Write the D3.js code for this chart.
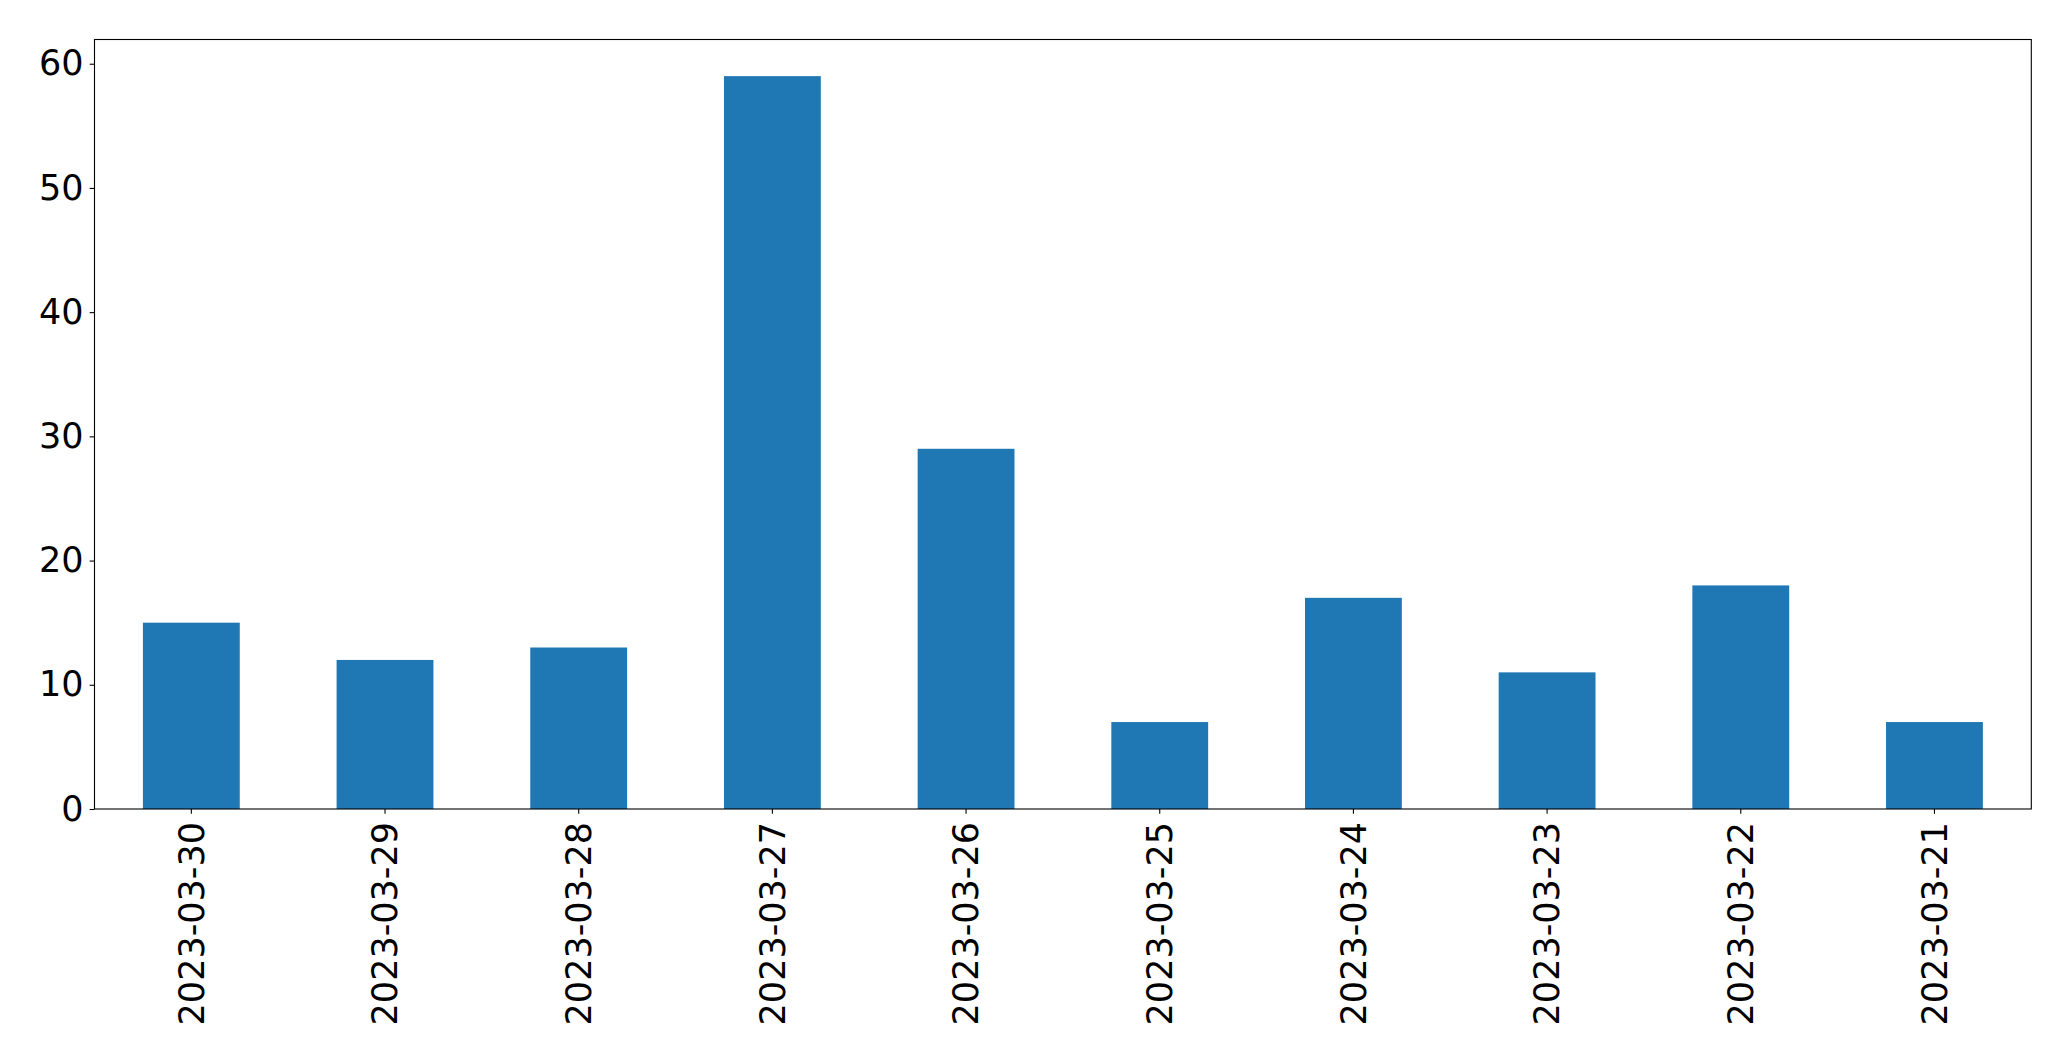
<!DOCTYPE html>
<html><head><meta charset="utf-8">
<script src="https://cdn.jsdelivr.net/npm/d3@7"></script>
<style>html,body{margin:0;padding:0;background:#fff;}svg{display:block;}</style>
</head><body>
<script>
const categories = ["2023-03-30","2023-03-29","2023-03-28","2023-03-27","2023-03-26","2023-03-25","2023-03-24","2023-03-23","2023-03-22","2023-03-21"];
const values = [15, 12, 13, 59, 29, 7, 17, 11, 18, 7];
const yTicks = [0, 10, 20, 30, 40, 50, 60];

const W = 2071, H = 1061;
const m = {left: 94.5, right: 2031.3, top: 39.5, bottom: 809};
const svg = d3.select("body").append("svg").attr("width", W).attr("height", H);

const x = d3.scaleBand().domain(categories).range([m.left, m.right]).paddingInner(0.5).paddingOuter(0.25);
const y = d3.scaleLinear().domain([0, d3.max(values) * 1.05]).range([m.bottom, m.top]);

svg.append("g").selectAll("rect").data(values).join("rect")
  .attr("x", (d, i) => x(categories[i]))
  .attr("y", d => y(d))
  .attr("width", x.bandwidth())
  .attr("height", d => y(0) - y(d))
  .attr("fill", "#1f77b4");

const font = "'DejaVu Sans', sans-serif";
const fs = 35;

const ya = svg.append("g").attr("transform", `translate(${m.left},0)`)
  .call(d3.axisLeft(y).tickValues(yTicks).tickSize(4.86).tickPadding(6).tickFormat(d3.format("d")));
ya.select(".domain").remove();
ya.selectAll("line").attr("stroke", "#000").attr("stroke-width", 1.1);
ya.selectAll("text").attr("font-family", font).attr("font-size", fs).attr("fill", "#000");

const xa = svg.append("g").attr("transform", `translate(0,${m.bottom})`)
  .call(d3.axisBottom(x).tickSize(4.86).tickPadding(4.86));
xa.select(".domain").remove();
xa.selectAll("line").attr("stroke", "#000").attr("stroke-width", 1.1);
xa.selectAll("text").attr("font-family", font).attr("font-size", fs).attr("fill", "#000")
  .attr("transform", "rotate(-90)")
  .attr("text-anchor", "end")
  .attr("x", -13).attr("y", 0).attr("dy", "0.35em");

svg.append("rect").attr("x", m.left).attr("y", m.top)
  .attr("width", m.right - m.left).attr("height", m.bottom - m.top)
  .attr("fill", "none").attr("stroke", "#000").attr("stroke-width", 1.1);
</script>
</body></html>
